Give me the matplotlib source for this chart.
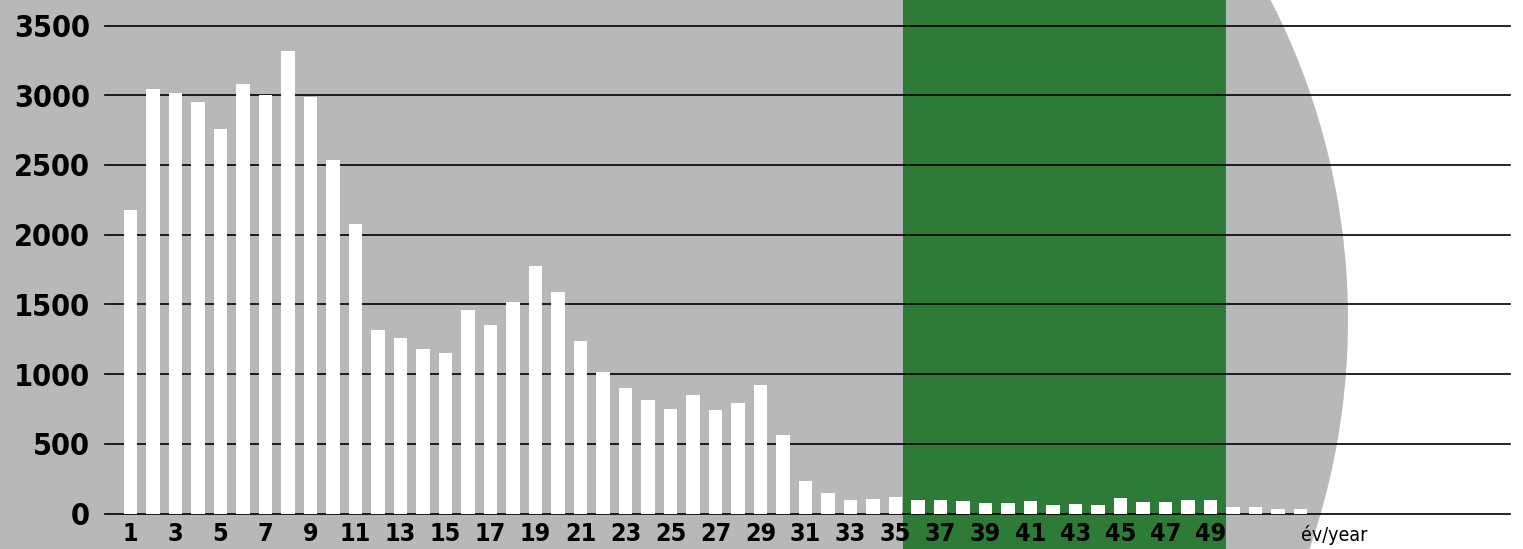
import numpy as np
import matplotlib
matplotlib.use("Agg")
import matplotlib.pyplot as plt
from matplotlib import font_manager
from matplotlib.font_manager import FontProperties
from matplotlib.patches import Circle, Rectangle

# data
years = np.arange(1, 54)
counts = [2180, 3045, 3016, 2951, 2758, 3081, 3000, 3317, 2987, 2535,
          2076, 1317, 1260, 1181, 1152, 1461, 1353, 1518, 1777, 1590,
          1238, 1016, 901, 815, 750, 851, 743, 793, 923, 564,
          233, 147, 97, 104, 118, 97, 97, 90, 75, 75,
          90, 61, 68, 61, 111, 83, 83, 97, 97, 47,
          47, 32, 32]
yticks = [0, 500, 1000, 1500, 2000, 2500, 3000, 3500]
xticks = list(range(1, 50, 2))
green_span = (35.33, 49.7)

GRAY = '#b7b8ba'
GREEN = '#2e7b37'


def narrow_font(bold):
    # look for a condensed / narrow face among the installed fonts
    found = []
    for f in font_manager.fontManager.ttflist:
        name = (f.fname + ' ' + f.name).lower()
        if ('condensed' in name or 'narrow' in name) and 'oblique' not in name \
                and 'italic' not in name:
            w = f.weight if isinstance(f.weight, int) else 400
            if bold and w >= 600:
                found.append(f)
            if not bold and w < 600:
                found.append(f)
    if found:
        found.sort(key=lambda f: (0 if 'sans' in f.name.lower() else 1, f.fname))
        return found[0].fname
    return None


bold_path = narrow_font(True)
reg_path = narrow_font(False)


def fp(bold, size):
    path = bold_path if bold else reg_path
    if path:
        return FontProperties(fname=path, size=size)
    return FontProperties(family='DejaVu Sans', weight='bold' if bold else 'normal',
                          size=size * 0.8)


W, H = 1523, 549
fig = plt.figure(figsize=(W / 100, H / 100), dpi=100)
fig.patch.set_facecolor('white')

# background in pixel coordinates: big grey disc
bg = fig.add_axes([0, 0, 1, 1])
bg.set_xlim(0, W)
bg.set_ylim(H, 0)
bg.axis('off')
bg.add_patch(Circle((648, 320), 700, color=GRAY, lw=0))
bg.add_patch(Rectangle((0, 0), 648, H, color=GRAY, lw=0))

# main axes
ax = fig.add_axes([105 / W, (H - 513.5) / H, 1405 / W, 488 / H])
ax.patch.set_visible(False)
x0 = 1 + (105 - 130.5) / 22.5
x1 = 1 + (1510 - 130.5) / 22.5
ax.set_xlim(x0, x1)
ax.set_ylim(0, 3500)

# green band, full figure height
bx0 = ax.transData.transform((green_span[0], 0))[0]
bx1 = ax.transData.transform((green_span[1], 0))[0]
bg.add_patch(Rectangle((bx0, 0), bx1 - bx0, H, color=GREEN, lw=0))

for t in yticks:
    ax.axhline(t, color='black', lw=1.2, zorder=1, clip_on=False)

ax.bar(years, counts, width=0.58, color='white', zorder=2)

for s in ax.spines.values():
    s.set_visible(False)

ax.set_yticks(yticks)
ax.set_yticklabels([str(t) for t in yticks], fontproperties=fp(True, 22))
ax.set_xticks(xticks)
ax.set_xticklabels([str(t) for t in xticks], fontproperties=fp(True, 18))
ax.tick_params(axis='y', length=0, pad=11)
ax.tick_params(axis='x', length=0, pad=6)

fig.text(1301 / W, 1 - 541 / H, 'év/year', fontproperties=fp(False, 14),
         ha='left', va='baseline', color='black')

fig.savefig('out.png', dpi=100, facecolor='white')
